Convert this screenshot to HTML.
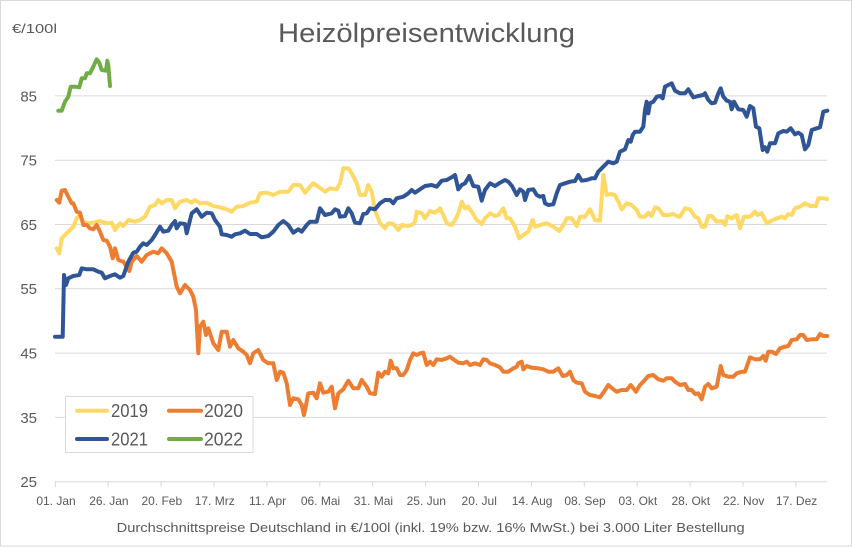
<!DOCTYPE html>
<html><head><meta charset="utf-8"><style>
html,body{margin:0;padding:0;background:#fff;}
svg{display:block;}
text{font-family:"Liberation Sans",sans-serif;fill:#595959;}
</style></head><body>
<svg width="852" height="547" viewBox="0 0 852 547" xmlns="http://www.w3.org/2000/svg">
<rect x="0.5" y="0.5" width="851" height="545.5" fill="#fff" stroke="#d9d9d9" stroke-width="1"/>
<text x="278" y="42" font-size="27" textLength="297" lengthAdjust="spacingAndGlyphs">Heizölpreisentwicklung</text>
<text x="12" y="33" font-size="13" textLength="45" lengthAdjust="spacingAndGlyphs">€/100l</text>
<g stroke="#d9d9d9" stroke-width="1">
<line x1="55" y1="95.9" x2="827" y2="95.9"/>
<line x1="55" y1="160.2" x2="827" y2="160.2"/>
<line x1="55" y1="224.5" x2="827" y2="224.5"/>
<line x1="55" y1="288.8" x2="827" y2="288.8"/>
<line x1="55" y1="353.1" x2="827" y2="353.1"/>
<line x1="55" y1="417.4" x2="827" y2="417.4"/>
<line x1="55" y1="481.7" x2="827" y2="481.7"/>
<line x1="55.3" y1="481.7" x2="55.3" y2="487"/>
<line x1="108.2" y1="481.7" x2="108.2" y2="487"/>
<line x1="161.1" y1="481.7" x2="161.1" y2="487"/>
<line x1="214" y1="481.7" x2="214" y2="487"/>
<line x1="266.9" y1="481.7" x2="266.9" y2="487"/>
<line x1="319.8" y1="481.7" x2="319.8" y2="487"/>
<line x1="372.7" y1="481.7" x2="372.7" y2="487"/>
<line x1="425.6" y1="481.7" x2="425.6" y2="487"/>
<line x1="478.5" y1="481.7" x2="478.5" y2="487"/>
<line x1="531.4" y1="481.7" x2="531.4" y2="487"/>
<line x1="584.3" y1="481.7" x2="584.3" y2="487"/>
<line x1="637.2" y1="481.7" x2="637.2" y2="487"/>
<line x1="690.1" y1="481.7" x2="690.1" y2="487"/>
<line x1="743" y1="481.7" x2="743" y2="487"/>
<line x1="795.9" y1="481.7" x2="795.9" y2="487"/>
</g>
<g font-size="15" text-anchor="end">
<text x="37" y="101.3">85</text>
<text x="37" y="165.6">75</text>
<text x="37" y="229.9">65</text>
<text x="37" y="294.2">55</text>
<text x="37" y="358.5">45</text>
<text x="37" y="422.8">35</text>
<text x="37" y="487.1">25</text>
</g>
<g font-size="12" text-anchor="middle">
<text x="56" y="505">01. Jan</text>
<text x="108.9" y="505">26. Jan</text>
<text x="161.8" y="505">20. Feb</text>
<text x="214.7" y="505">17. Mrz</text>
<text x="267.6" y="505">11. Apr</text>
<text x="320.5" y="505">06. Mai</text>
<text x="373.4" y="505">31. Mai</text>
<text x="426.3" y="505">25. Jun</text>
<text x="479.2" y="505">20. Jul</text>
<text x="532.1" y="505">14. Aug</text>
<text x="585" y="505">08. Sep</text>
<text x="637.9" y="505">03. Okt</text>
<text x="690.8" y="505">28. Okt</text>
<text x="743.7" y="505">22. Nov</text>
<text x="796.6" y="505">17. Dez</text>
</g>
<text x="116.7" y="532" font-size="13" textLength="628" lengthAdjust="spacingAndGlyphs">Durchschnittspreise Deutschland in €/100l (inkl. 19% bzw. 16%  MwSt.) bei 3.000 Liter Bestellung</text>
<g fill="none" stroke-width="4" stroke-linejoin="round" stroke-linecap="round">
<polyline stroke="#FFD966" points="56.7,248.3 59.3,253.3 61.7,238.3 65,235 68.3,231.7 73.3,226.7 76.7,218.3 80,215 83.3,221.7 86.7,223.3 93.3,222.7 100,221 106.7,223.3 111.7,222.7 115,230 120,223.3 123.3,226 128.3,220 135,221.7 140,220 145,216.7 150,206.7 155,205 158.3,200 161.7,203.3 166.7,200 171.7,200 175,208.3 180,201.7 186.7,200 191.7,202.7 195,200 200,203.3 206.7,202.7 213.3,206 220,207.3 226.7,209.3 231.7,211.7 236.7,206.7 243.3,206 250,202.7 256.7,201.7 260,193.3 266.7,192.7 273.3,195 280,191.7 288.3,191.7 293.3,185 298.3,185 300,185 305,192.7 310,186.7 313.3,183.3 318.3,186.7 325,191.7 330,188.3 336.7,189.3 340,183.3 343.3,168.3 348.3,168.3 351.7,173.3 356.7,183.3 360,195 365,195 368.3,185 371.7,191.7 375,210 380,223.3 385,228.3 388.3,223.3 393.3,224 398.3,230 401.7,225 406.7,226 411.7,225 415,221.7 416.7,211.7 421.7,213.3 425,218.3 430,211 435,212.7 440,208.3 443.3,215 446.7,223.3 451.7,225 455,220 458.3,213.3 461.7,201.7 465,208.3 468.3,206.7 471.7,211.7 476.7,220 481.7,224 485,218.3 490,213.3 495,216 498.3,215 503.3,208.3 506.7,218.3 510,218.3 515,226.7 519.3,238.3 523.3,235 528.3,231.7 532.7,220 535,226.7 540,225 546.7,223.3 553.3,226.7 559.3,231 563.3,225 566.7,218.3 571.7,218.3 576.7,226 580,216.7 585,216.7 590,209.3 595,220 600,220.7 603.3,175 606.7,195 610,194 615,195 618.3,201.7 621.7,209.3 626.7,203.3 631.7,205 636.7,210 640,216.7 645,216.7 648.3,212.7 651.7,216 655,207.3 658.3,208.3 663.3,215 668.3,215 673.3,214 678.3,216.7 680,216.7 685,208.3 690,209.3 695,216.7 698.3,218.3 701.7,226.7 705,226.7 708.3,216 711.7,216 716.7,221.7 721.7,221 725,225 727.3,216 731.7,218.3 736.7,215 740,228.3 744,216.7 750,216.7 755,211.7 757.3,215 761.7,213.3 766.7,223.3 771.7,220.7 776.7,218.3 781.7,216.7 785,218.3 788.3,214 791.7,215 795,208.3 800,206.7 805,203.3 810,206 816,206 818.3,198.3 823.3,198.3 827.3,199"/>
<polyline stroke="#ED7D31" points="56.7,200 59.3,202.7 61.7,190.7 65,190 68.3,196.7 71.7,203.3 73.3,203.3 76.7,211.7 80,212.7 83.3,225 86.7,225 90,228.3 93.3,229.3 96.7,225 100,231.7 103.3,240 106.7,240.7 110,246.7 112.7,258.3 115,248.3 118.3,260 123.3,261.7 129.3,271 131.7,261.7 136.7,256 141.7,261.7 146.7,255 153.3,251.7 158.3,253.3 161.7,248.3 166.7,253.3 171.7,261.7 176.7,286.7 180,293.3 185,285 190,290 193.3,296.7 196,310 198.3,353.3 200,326.7 203.3,321.7 206,335 208.3,328.3 213.3,343.3 218.3,350 221.7,331.7 226.7,331.7 230,346.7 233.3,340 238.3,348.3 243.3,351.7 246.7,355 250,363.3 253.3,353.3 258.3,350 263.3,360 268.3,363.3 273.3,363.3 276.7,380 280,371.7 283.3,372.7 286.7,383.3 290,405 293.3,398.3 298.3,399.3 301.7,405 304,415 308.3,393.3 313.3,392.7 316.7,398.3 320,383.3 323.3,392.7 328.3,391.7 331.7,386.7 335,408.3 338.3,393.3 343.3,389.3 348.3,380.7 353.3,388.3 358.3,388.3 361.7,380 366.7,386.7 370,393.3 375,394 378.3,372.7 381.7,376.7 385,371.7 388.3,373.3 390.7,360.7 393.3,368.3 396.7,368.3 400,375 403.3,375 406.7,370 410,360 413.3,353.3 416.7,355 420,353.3 423.3,352.7 426.7,365 430,361.7 433.3,365 436.7,359.3 441.7,360 446.7,358.3 450,356.7 453.3,359.3 458.3,362.7 463.3,363.3 466.7,361.7 470,365 475,363.3 480,365 483.3,359.3 486.7,360 490,363.3 495,365 500,367.3 503.3,371.7 508.3,371.7 513.3,368.3 516.7,366.7 518.3,363.3 521.7,361.7 523.3,369.3 526.7,366 531.7,367.7 538.3,368.3 543.3,369.3 548.3,371.7 553.3,371.7 558.3,368.3 562.7,376 566.7,375 570,371.7 573.3,380 576.7,382.7 581.7,383.3 585,391.7 590,395 595,396 600,397.3 604,391.7 608.3,385 613.3,389.3 616.7,391.7 621.7,390 626.7,390 630.7,385 633.3,388.3 636,391.7 640,385 643.3,381.7 648.3,376 653.3,375 658.3,379.3 663.3,380.7 666.7,378.3 671.7,378.3 675,381.7 680,385 685,384 688.3,390 691.7,390 695,394 698.3,393.3 701.7,399.3 705,386.7 708.3,384 711.7,388.3 716.7,386.7 720.7,366 723.3,375 728.3,376.7 733.3,376.7 736.7,373.3 741.7,371.7 745,371.7 750,357.3 755,359.3 760,359.3 763.3,356 765.7,360.7 768.3,351.7 771.7,351.7 776,354 780,348.3 785,346.7 788.3,346 791.7,340 796.7,339.3 800,335 803.3,335 806.7,340 811.7,339.3 816.7,339.3 820,334 823.3,336 827.3,336"/>
<polyline stroke="#2F5597" points="55,336.7 62.7,336.7 64,275 66,285 68.3,278.3 73.3,276 79.3,275 81.7,268.3 86.7,269.3 93.3,269.3 98.3,271.7 101.7,272.7 105,278.3 110,276 115,274.3 120,277.7 123.3,276 128.3,261.7 133.3,252.7 136.7,251.7 140,246.7 143.3,243.3 146.7,245 151.7,240 155,235 160,226.7 163.3,231.7 168.3,230.7 171.7,225 175,221 176.7,228.3 180,223.3 185,224 186.7,233.3 191.7,213.3 196.7,209.3 201.7,216.7 206.7,212.7 211.7,213.3 215,220 220,226.7 221.7,234.3 226.7,235 231.7,236.7 235,234.3 240,233.3 245,230.7 250,234 256.7,234 261.7,237.3 268.3,236 273.3,231.7 278.3,225 283.3,221 288.3,225 293.3,232.7 298.3,229.3 301.7,231.7 306.7,225 310,221.7 316.7,221.7 320,208.3 325,215 331.7,213.3 335,209.3 338.3,210.7 340,216.7 345,216 348.3,208.3 351.7,213.3 355,222.7 360,223.3 363.3,214 366.7,213.3 370,208.3 375,209.3 380,203.3 385,200 390,200 393.3,203.3 396.7,198.3 403.3,196.7 408.3,193.3 411.7,190 415,192.7 420,189.3 425,186 431.7,185 436.7,186.7 441.7,180.7 446.7,180 451.7,177.3 455,175 458.3,189.3 461.7,185 465,183.3 469.3,176 473.3,186 478.3,186.7 481.7,200.7 485,190 490,183.3 495,186 500,182.7 505,180 508.3,181.7 512,186 516.7,195 520,189.3 523.3,191.7 525,200 528.3,190 533.3,189.3 536.7,195 540,196.7 543.3,196 545,203.3 548.3,205 553.3,204.3 556.7,193.3 560,185 565,183.3 570,181.7 575,181 578.3,175 581.7,180.7 586.7,180 591.7,178.3 595,178.3 598.3,171.7 603.3,166.7 608.3,161.7 613.3,163.3 616.7,161.7 620,151.7 625,149.3 628.3,140 630.7,141.7 632.7,135 635,131.7 640,131.7 643.3,126.7 645,110 646.7,101.7 648.3,113.3 650,103.3 653.3,101.7 656.7,96.7 660,96 662.7,98.3 665,86.7 668.3,85 671.7,83.3 675,90.7 680,93.3 685,93.3 688.3,89.3 693.3,97.3 698.3,96 703.3,95 705,93.3 708.3,100 711.7,103.3 715,102.7 718.3,93.3 720.7,88.3 723.3,96.7 726.7,100.7 730,101.7 731.7,109.3 734,101.7 738.3,109.3 743.3,110 746.7,116.7 750,106 753.3,108.3 756,126.7 759.3,128.3 762.7,150 765,147.3 767.3,151.7 770,143.3 775,143.3 778.3,133.3 783.3,131 786.7,131.7 790.7,128.3 795,134.3 798.3,132.7 801.7,135 805,149.3 808.3,145 811.7,130 816.7,128.3 820,127.3 823.3,111.7 827.3,110.7"/>
<polyline stroke="#70AD47" points="58.3,110.7 61.7,110.7 65,101.7 68.3,96.7 70.7,86.7 75,86.7 79.3,87.3 81.7,78.3 85,78.3 86.7,73.3 90,73.3 93.3,66.7 96.7,59.3 99.3,62.7 101.7,70 106,70.7 107.3,60.7 108.3,65 110,86"/>
</g>
<rect x="65.5" y="396.5" width="187.5" height="56" fill="#fff" stroke="#d9d9d9" stroke-width="1"/>
<g stroke-width="4" stroke-linecap="round">
<line x1="77" y1="410.7" x2="107" y2="410.7" stroke="#FFD966"/>
<line x1="169" y1="410.7" x2="201" y2="410.7" stroke="#ED7D31"/>
<line x1="77" y1="439" x2="107" y2="439" stroke="#2F5597"/>
<line x1="169" y1="439" x2="201" y2="439" stroke="#70AD47"/>
</g>
<g font-size="18">
<text x="111" y="417" textLength="37" lengthAdjust="spacingAndGlyphs">2019</text>
<text x="204" y="417" textLength="39" lengthAdjust="spacingAndGlyphs">2020</text>
<text x="111" y="445.5" textLength="37" lengthAdjust="spacingAndGlyphs">2021</text>
<text x="204" y="445.5" textLength="39" lengthAdjust="spacingAndGlyphs">2022</text>
</g>
</svg>
</body></html>
